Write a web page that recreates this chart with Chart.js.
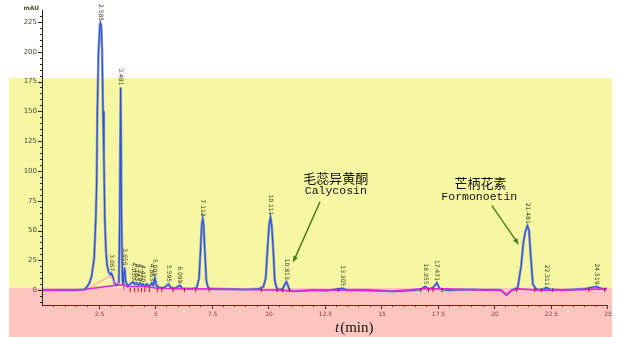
<!DOCTYPE html>
<html>
<head>
<meta charset="utf-8">
<script src="https://cdn.jsdelivr.net/npm/chart.js@4.4.1/dist/chart.umd.min.js"></script>
<style>
    html, body { margin: 0; padding: 0; background: #fff; }
    #wrap { width: 618px; height: 337px; position: relative; }
</style>
</head>
<body>
<div id="wrap"><canvas id="chromChart" width="618" height="337"></canvas></div>
<script>
// Chromatogram trace (time in min, signal in mAU)
const traceTime = [0, 1.5, 1.85, 1.96, 2.1, 2.2, 2.31, 2.38, 2.42, 2.45, 2.5, 2.56, 2.585, 2.62, 2.66, 2.7, 2.74, 2.78, 2.83, 2.88, 2.95, 3.03, 3.067, 3.12, 3.2, 3.3, 3.4, 3.44, 3.481, 3.52, 3.56, 3.6, 3.63, 3.656, 3.7, 3.78, 3.9, 4.03, 4.1, 4.18, 4.25, 4.33, 4.4, 4.47, 4.55, 4.63, 4.75, 4.863, 4.93, 5.001, 5.06, 5.2, 5.4, 5.595, 5.7, 5.9, 6.099, 6.2, 6.6, 6.85, 6.95, 7.02, 7.07, 7.112, 7.15, 7.2, 7.27, 7.35, 7.5, 9.0, 9.6, 9.8, 9.9, 9.98, 10.05, 10.111, 10.16, 10.23, 10.3, 10.38, 10.5, 10.65, 10.75, 10.813, 10.88, 10.95, 11.1, 12, 12.6, 13.305, 13.5, 14.5, 15.5, 16.5, 16.8, 16.955, 17.1, 17.3, 17.471, 17.6, 18, 19, 20.3, 20.55, 20.8, 21.05, 21.2, 21.3, 21.4, 21.481, 21.55, 21.62, 21.72, 21.85, 22.1, 22.311, 22.5, 23, 23.5, 24, 24.519, 24.8, 25];
const traceSignal = [0, 0, 0.5, 2, 6, 12, 27, 60, 92, 150, 200, 222, 224, 222, 200, 150, 110, 59, 33, 21, 15, 13, 14, 12, 6, 4, 6, 60, 170, 60, 8, 5, 16, 19, 8, 3, 5, 7, 5, 6, 4, 6, 4, 5, 3, 5, 3, 6, 4, 10, 4, 2, 2, 5, 2, 1.5, 4, 1.5, 1, 2, 10, 35, 55, 60, 55, 35, 8, 2, 1, 0.5, 1, 3, 10, 35, 55, 61, 55, 35, 8, 2, 0, 1, 5, 7, 4, 0, -1, 0, -0.5, 1.5, 0, 0, -1, 0, 1, 3, 1, 2, 6, 1, 0, 0.5, 0, -4, 0, 2, 20, 40, 50, 54, 50, 30, 5, 1, 0, 2, 0.5, 0, 0.5, 1, 3, 1, 1];

// integration baseline (magenta) and the drop-line segment under the first peaks
const baseTime = [0, 1.9, 2.0, 3.25, 3.6, 3.8, 4.5, 5.2, 6.2, 7, 9, 10.5, 11.1, 12, 13.5, 15.5, 16.8, 17.7, 19.7, 20.3, 20.55, 20.8, 21.05, 22, 23, 25];
const baseSignal = [0, 0.3, 1, 4, 4.5, 3, 3, 1.5, 1, 1, 0.5, 0, -1, 0, 0, -1, 1, 1, 0, 0, -4, 0, 1, 0, 0, 1];
const dropTime = [2.0, 3.03, 3.18, 3.7];
const dropSignal = [1, 12, 7, 3];

// peak start/end marks on the baseline
const markTime = [3.9, 4.1, 4.25, 4.4, 4.55, 4.75, 5.1, 5.3, 5.8, 6.3, 6.8, 7.4, 9.7, 10.4, 10.65, 10.95, 13.1, 16.75, 17.1, 17.3, 17.7, 21.0, 21.8, 22.1, 22.6, 24.2, 24.9];

// retention time labels
const peakTimes = [2.585, 3.067, 3.481, 3.656, 4.03, 4.18, 4.33, 4.47, 4.863, 5.001, 5.595, 6.099, 7.112, 10.111, 10.813, 13.305, 16.955, 17.471, 21.481, 22.311, 24.519];
const peakLabels = ['2.585', '3.067', '3.481', '3.656', '4.030', '4.183', '4.329', '4.470', '4.863', '5.001', '5.595', '6.099', '7.112', '10.111', '10.813', '13.305', '16.955', '17.471', '21.481', '22.311', '24.519'];
const peakTops = [224, 14, 170, 19, 7, 6, 6, 5, 6, 10, 5, 4, 60, 61, 7, 1.5, 3, 6, 54, 2, 3];

// axes
const xMajorTicks = [2.5, 5, 7.5, 10, 12.5, 15, 17.5, 20, 22.5, 25];
const xTickLabels = ['2.5', '5', '7.5', '10', '12.5', '15', '17.5', '20', '22.5', '25'];
const yMajorTicks = [0, 25, 50, 75, 100, 125, 150, 175, 200, 225];

const toPoints = (xs, ys) => xs.map((x, i) => ({ x: x, y: ys[i] }));

// Background bands
const bandsPlugin = {
    id: 'bands',
    beforeDraw: chart => {
        const c = chart.ctx;
        const y = chart.scales.y;
        const top = y.getPixelForValue(178);
        const split = y.getPixelForValue(2);
        c.save();
        c.fillStyle = '#ffffff';
        c.fillRect(0, 0, chart.width, chart.height);
        c.fillStyle = '#f6f7a2';
        c.fillRect(9, top, 603, split - top);
        c.fillStyle = '#ffc6c0';
        c.fillRect(9, split, 603, chart.height - split);
        c.restore();
    }
};

// Axes, peak labels, annotations
const decorPlugin = {
    id: 'decor',
    afterDraw: chart => {
        const c = chart.ctx;
        const xs = chart.scales.x;
        const ys = chart.scales.y;
        const area = chart.chartArea;
        c.save();

        // y axis
        c.strokeStyle = '#1f2a08';
        c.lineWidth = 1;
        c.beginPath();
        c.moveTo(area.left + 0.5, area.top);
        c.lineTo(area.left + 0.5, area.bottom);
        c.stroke();
        for (let v = -10; v <= 230; v += 5) {
            const py = Math.round(ys.getPixelForValue(v)) + 0.5;
            const len = (v % 25 === 0) ? 4 : 2;
            c.beginPath();
            c.moveTo(area.left - len, py);
            c.lineTo(area.left, py);
            c.stroke();
        }
        c.fillStyle = '#4a4a3a';
        c.font = '7px "DejaVu Sans"';
        c.textAlign = 'right';
        c.textBaseline = 'middle';
        yMajorTicks.forEach(v => {
            c.fillText(String(v), area.left - 5, ys.getPixelForValue(v));
        });
        c.font = 'bold 6px "DejaVu Sans"';
        c.fillText('mAU', area.left - 3, area.top - 2);

        // x axis
        c.strokeStyle = '#8e1515';
        c.beginPath();
        c.moveTo(area.left, area.bottom + 0.5);
        c.lineTo(area.right + 1, area.bottom + 0.5);
        c.stroke();
        for (let t = 0.5; t <= 25.01; t += 0.5) {
            const px = Math.round(xs.getPixelForValue(t)) + 0.5;
            const major = Math.abs(t / 2.5 - Math.round(t / 2.5)) < 0.01;
            c.beginPath();
            c.moveTo(px, area.bottom);
            c.lineTo(px, area.bottom + (major ? 4 : 2));
            c.stroke();
        }
        c.fillStyle = '#8a3a30';
        c.font = '6px "DejaVu Sans"';
        c.textAlign = 'center';
        c.textBaseline = 'top';
        xMajorTicks.forEach((t, i) => {
            c.fillText(xTickLabels[i], xs.getPixelForValue(t) + 1, area.bottom + 6);
        });

        // retention time labels, rotated
        c.fillStyle = '#2f3814';
        c.font = '6px "DejaVu Sans"';
        c.textAlign = 'right';
        c.textBaseline = 'middle';
        peakTimes.forEach((t, i) => {
            c.save();
            c.translate(xs.getPixelForValue(t), ys.getPixelForValue(peakTops[i]) - 2);
            c.rotate(Math.PI / 2);
            c.fillText(peakLabels[i], 0, 0);
            c.restore();
        });

        // compound annotations
        c.fillStyle = '#111111';
        c.textAlign = 'center';
        c.textBaseline = 'middle';
        c.font = '13px "Noto Sans CJK SC"';
        c.fillText('毛蕊异黄酮', xs.getPixelForValue(13.0), ys.getPixelForValue(94));
        c.fillText('芒柄花素', xs.getPixelForValue(19.4), ys.getPixelForValue(90));
        c.font = '11.5px "Liberation Mono"';
        c.fillText('Calycosin', xs.getPixelForValue(13.0), ys.getPixelForValue(83));
        c.fillText('Formonoetin', xs.getPixelForValue(19.35), ys.getPixelForValue(78));

        const arrow = (t0, v0, t1, v1) => {
            const x0 = xs.getPixelForValue(t0), y0 = ys.getPixelForValue(v0);
            const x1 = xs.getPixelForValue(t1), y1 = ys.getPixelForValue(v1);
            const a = Math.atan2(y1 - y0, x1 - x0);
            c.strokeStyle = '#4b7a16';
            c.fillStyle = '#4b7a16';
            c.lineWidth = 1.4;
            c.beginPath();
            c.moveTo(x0, y0);
            c.lineTo(x1 - 5 * Math.cos(a), y1 - 5 * Math.sin(a));
            c.stroke();
            c.beginPath();
            c.moveTo(x1, y1);
            c.lineTo(x1 - 7 * Math.cos(a - 0.35), y1 - 7 * Math.sin(a - 0.35));
            c.lineTo(x1 - 7 * Math.cos(a + 0.35), y1 - 7 * Math.sin(a + 0.35));
            c.closePath();
            c.fill();
        };
        arrow(12.3, 74, 11.1, 23);
        arrow(19.9, 71, 21.1, 38);

        // axis title
        c.fillStyle = '#111111';
        c.textAlign = 'left';
        c.textBaseline = 'middle';
        c.font = 'italic 15px "Liberation Serif"';
        c.fillText('t', 335, 328);
        const tw = c.measureText('t').width;
        c.font = '15px "Liberation Serif"';
        c.fillText('(min)', 335 + tw + 1, 328);

        c.restore();
    }
};

window.addEventListener('DOMContentLoaded', () => {
    const ctx = document.getElementById('chromChart').getContext('2d');

    new Chart(ctx, {
        type: 'line',
        data: {
            datasets: [
                {
                    label: 'marks',
                    data: markTime.map(t => ({ x: t, y: 0 })),
                    showLine: false,
                    pointStyle: 'line',
                    rotation: 90,
                    pointRadius: 2,
                    borderColor: '#b01010',
                    borderWidth: 1
                },
                {
                    label: 'baseline',
                    data: toPoints(baseTime, baseSignal),
                    borderColor: '#e02ad8',
                    borderWidth: 1.6,
                    pointRadius: 0,
                    tension: 0
                },
                {
                    label: 'drop',
                    data: toPoints(dropTime, dropSignal),
                    borderColor: '#ff8fb0',
                    borderWidth: 1,
                    pointRadius: 0,
                    tension: 0
                },
                {
                    label: 'signal',
                    data: toPoints(traceTime, traceSignal),
                    borderColor: '#2e4fe0',
                    borderWidth: 1.2,
                    pointRadius: 0,
                    tension: 0
                },
                {
                    label: 'signal shadow',
                    data: toPoints(traceTime, traceSignal),
                    borderColor: 'rgba(120, 140, 190, 0.8)',
                    borderWidth: 2.6,
                    pointRadius: 0,
                    tension: 0
                }
            ]
        },
        options: {
            responsive: false,
            animation: false,
            layout: {
                padding: { left: 42, right: 11, top: 10, bottom: 32 }
            },
            plugins: {
                legend: { display: false },
                tooltip: { enabled: false }
            },
            scales: {
                x: {
                    type: 'linear',
                    min: 0,
                    max: 25,
                    display: false
                },
                y: {
                    min: -12.5,
                    max: 235,
                    display: false
                }
            }
        },
        plugins: [bandsPlugin, decorPlugin]
    });
});
</script>
</body>
</html>
